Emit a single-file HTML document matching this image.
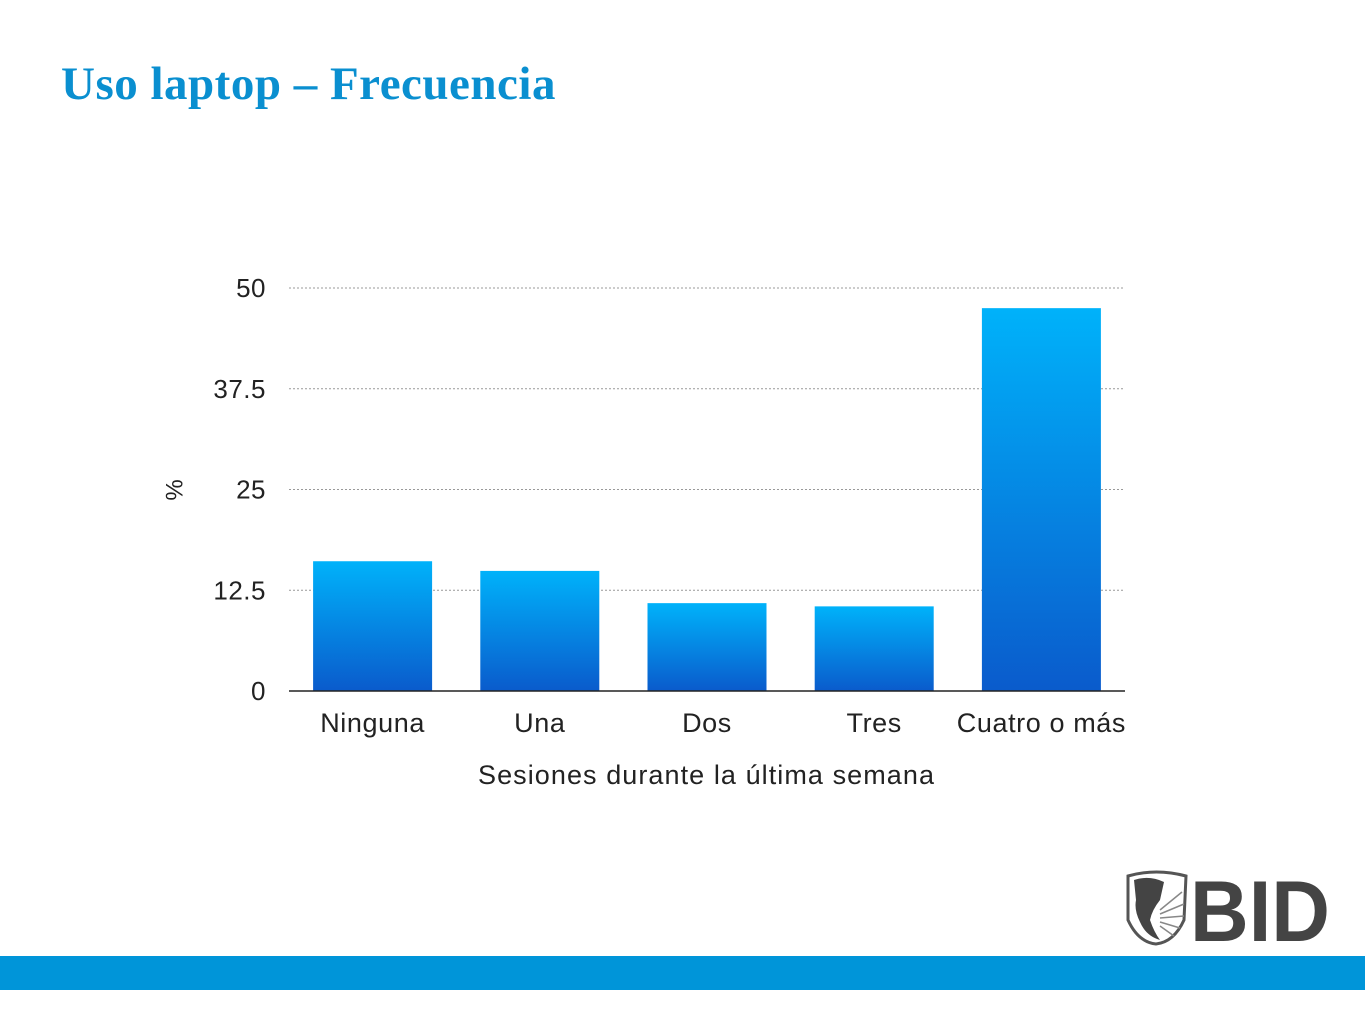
<!DOCTYPE html>
<html><head><meta charset="utf-8"><style>
body{margin:0;width:1365px;height:1024px;background:#fff;position:relative;overflow:hidden;font-family:"Liberation Sans",sans-serif}
#title{position:absolute;left:61px;top:57px;font-family:"Liberation Serif",serif;font-weight:bold;font-size:47px;letter-spacing:0.5px;color:#0a8fd0;margin:0}
#band{position:absolute;left:0;top:956px;width:1365px;height:34px;background:#0095d9}
</style></head><body>
<h1 id="title">Uso laptop – Frecuencia</h1>
<svg id="chart" width="1365" height="1024" style="position:absolute;left:0;top:0">
<defs><linearGradient id="g" x1="0" y1="0" x2="0" y2="1"><stop offset="0" stop-color="#00b2fa"/><stop offset="1" stop-color="#0a5bcc"/></linearGradient></defs>
<g id="grid"></g><g id="bars"></g><g id="labels"></g>
<text x="176" y="490" transform="rotate(-90 176 490)" text-anchor="middle" dominant-baseline="middle" font-size="24" fill="#222">%</text>
<text x="706" y="784" text-anchor="middle" font-size="27" fill="#222" textLength="456" lengthAdjust="spacing">Sesiones durante la última semana</text>
</svg>
<div id="band"></div>
<svg width="210" height="76" style="position:absolute;left:1124px;top:870px">
<path d="M4 6 Q32 -2 62 6 L60 50 Q50 72 32 74 Q14 72 4 50 Z" fill="#fff" stroke="#555" stroke-width="3"/>
<path d="M10 10 Q25 5 40 12 L36 30 Q28 40 26 50 Q30 62 36 70 Q22 66 16 52 Q10 40 12 30 Z" fill="#444"/>
<g stroke="#888" stroke-width="1.5"><line x1="36" y1="40" x2="58" y2="22"/><line x1="36" y1="44" x2="60" y2="34"/><line x1="36" y1="48" x2="60" y2="46"/><line x1="36" y1="52" x2="56" y2="58"/><line x1="36" y1="56" x2="50" y2="66"/></g>
<text x="66" y="71" font-family="Liberation Sans" font-weight="bold" font-size="86" fill="#444" textLength="140" lengthAdjust="spacingAndGlyphs">BID</text>
</svg>
<script>
const categories=["Ninguna","Una","Dos","Tres","Cuatro o más"];
const values=[16.1,14.9,10.9,10.5,47.5];
const ticks=[0,12.5,25,37.5,50];
const tickLabels=["0","12.5","25","37.5","50"];
const ns="http://www.w3.org/2000/svg";
const x0=289,x1=1125,y0=691,y1=288,ymax=50;
const y=v=>y0-(v/ymax)*(y0-y1);
const slot=(x1-x0)/categories.length;
const xc=i=>x0+slot*(i+0.5);
function mk(t,a,p){const e=document.createElementNS(ns,t);for(const k in a)e.setAttribute(k,a[k]);p.appendChild(e);return e;}
const grid=document.getElementById('grid'),bars=document.getElementById('bars'),labels=document.getElementById('labels');
ticks.forEach((t,i)=>{
 if(t>0){const l=mk('line',{x1:x0,x2:x1,y1:y(t),y2:y(t),stroke:'#999','stroke-width':1,'stroke-dasharray':'2,2'},grid);
 
 }
 const tx=mk('text',{x:266,y:y(t)+9,'text-anchor':'end','font-size':26,'letter-spacing':'0.5',fill:'#222'},labels);
 tx.textContent=tickLabels[i];
 
 
});
values.forEach((v,i)=>{
 const r=mk('rect',{x:xc(i)-59.5,y:y(v),width:119,height:y0-y(v),fill:'url(#g)'},bars);
 
 
 const tx=mk('text',{x:xc(i),y:732,'text-anchor':'middle','font-size':27,'letter-spacing':'0.6',fill:'#222'},labels);
 tx.textContent=categories[i];
 
 
});
const ax=mk('line',{x1:x0,x2:x1,y1:y0,y2:y0,stroke:'#222','stroke-width':1.5},bars);


</script>
</body></html>
